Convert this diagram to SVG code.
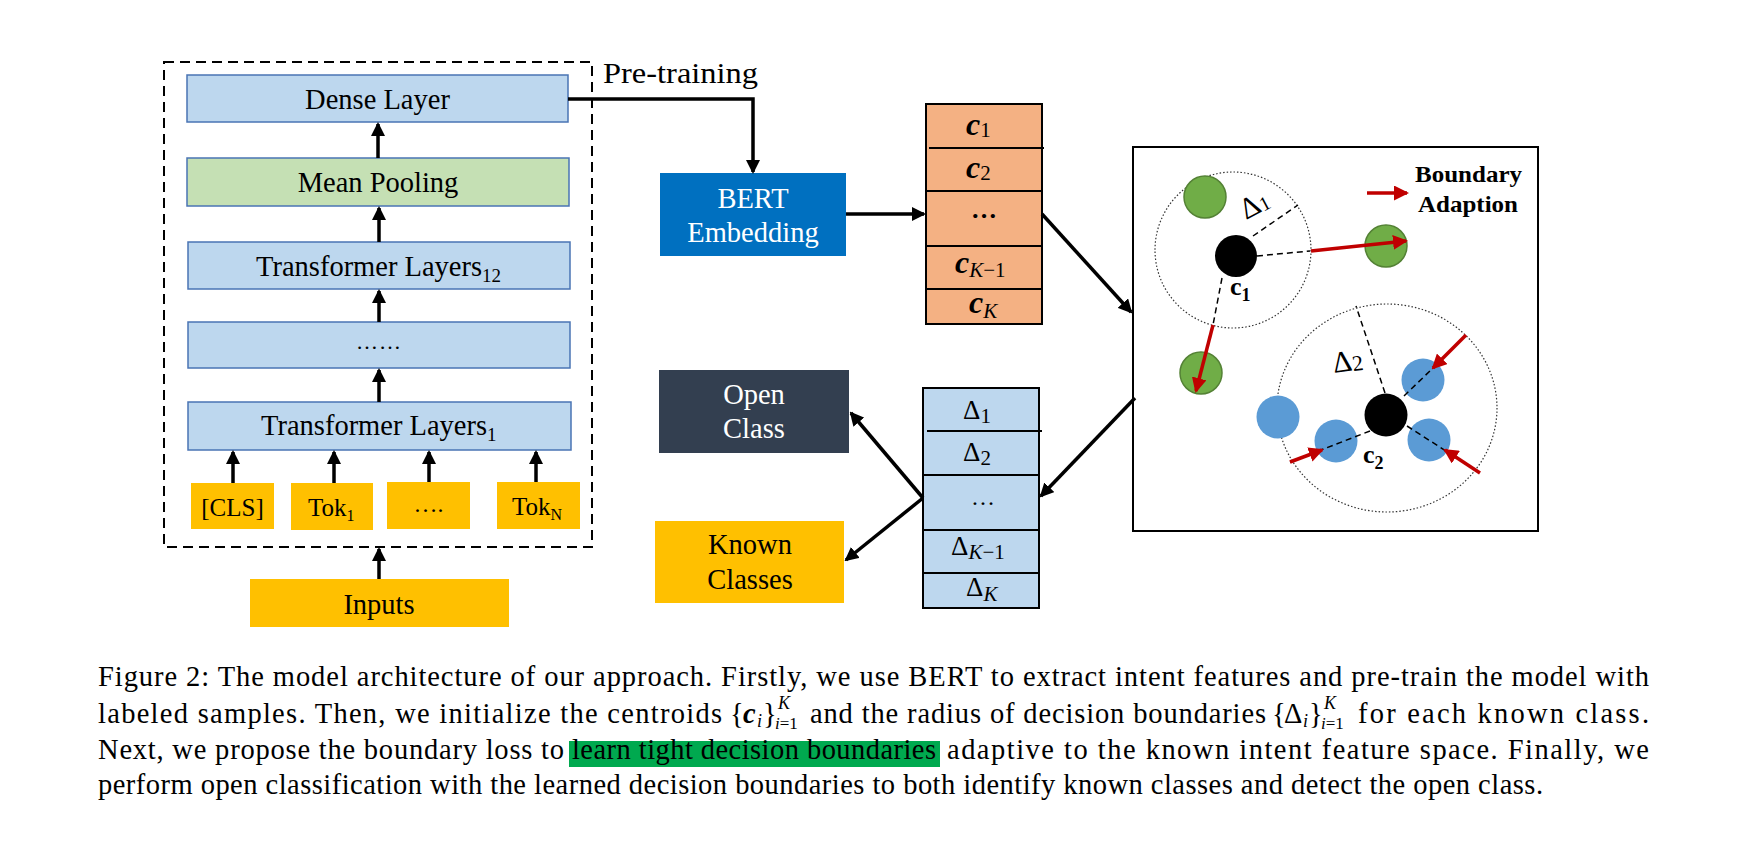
<svg xmlns="http://www.w3.org/2000/svg" width="1752" height="850" viewBox="0 0 1752 850">
<defs>
<style>
.t{font-family:"Liberation Serif","Times New Roman",serif;fill:#000}
.w{font-family:"Liberation Serif","Times New Roman",serif;fill:#fff}
.lb{fill:#BDD7EE;stroke:#4A74B4;stroke-width:1.5}
.gr{fill:#C5E0B4;stroke:#4A74B4;stroke-width:1.5}
.yl{fill:#FFC000}
.ln{stroke:#000;stroke-width:3.5;fill:none}
.rd{stroke:#C00000;stroke-width:3.5;fill:none}
.ds{stroke:#000;stroke-width:1.5;stroke-dasharray:6,4;fill:none}
.dt{stroke:#333;stroke-width:1.2;stroke-dasharray:1.5,2;fill:none}
.cell{stroke:#000;stroke-width:2;fill:none}
</style>
<marker id="ab" markerUnits="userSpaceOnUse" markerWidth="14" markerHeight="14" refX="12" refY="7" orient="auto"><path d="M0,0 L14,7 L0,14 z" fill="#000"/></marker>
<marker id="ar" markerUnits="userSpaceOnUse" markerWidth="15" markerHeight="15" refX="13" refY="7.5" orient="auto"><path d="M0,0 L15,7.5 L0,15 z" fill="#C00000"/></marker>
</defs>
<rect width="1752" height="850" fill="#fff"/>

<g id="encoder">
<rect x="164" y="62" width="428" height="485" fill="none" stroke="#000" stroke-width="2" stroke-dasharray="10,6"/>
</g>
<g id="dense"><rect class="lb" x="187" y="75" width="381" height="47"/><text class="t" x="377.5" y="109" font-size="28.5" text-anchor="middle">Dense Layer</text></g>
<g id="pooling"><rect class="gr" x="187" y="158" width="382" height="48"/><text class="t" x="378" y="192" font-size="28.5" text-anchor="middle">Mean Pooling</text></g>
<g id="tl12"><rect class="lb" x="188" y="242" width="382" height="47"/><text class="t" x="256" y="276" font-size="28.5">Transformer Layers<tspan font-size="19" dy="6">12</tspan></text></g>
<g id="tldots"><rect class="lb" x="188" y="322" width="382" height="46"/><text class="t" x="379" y="349" font-size="22" text-anchor="middle" letter-spacing="1">……</text></g>
<g id="tl1"><rect class="lb" x="188" y="402" width="383" height="48"/><text class="t" x="261" y="435" font-size="28.5">Transformer Layers<tspan font-size="19" dy="6">1</tspan></text></g>
<g id="tok-cls"><rect class="yl" x="191" y="483" width="83" height="46"/><text class="t" x="232.5" y="516" font-size="25" text-anchor="middle">[CLS]</text></g>
<g id="tok-1"><rect class="yl" x="291" y="483" width="82" height="47"/><text class="t" x="308" y="516" font-size="25">Tok<tspan font-size="16" dy="5">1</tspan></text></g>
<g id="tok-dots"><rect class="yl" x="387" y="482" width="83" height="47"/><text class="t" x="428.5" y="512" font-size="24" text-anchor="middle">….</text></g>
<g id="tok-n"><rect class="yl" x="497" y="482" width="83" height="47"/><text class="t" x="512" y="515" font-size="25">Tok<tspan font-size="16" dy="5">N</tspan></text></g>
<g id="inputs"><rect class="yl" x="250" y="579" width="259" height="48"/><text class="t" x="379" y="614" font-size="28.5" text-anchor="middle">Inputs</text></g>

<g id="pretraining-label"><text class="t" x="603" y="83" font-size="30" textLength="155" lengthAdjust="spacingAndGlyphs">Pre-training</text></g>

<g id="bert"><rect x="660" y="173" width="186" height="83" fill="#0070C0"/><text class="w" x="753" y="208" font-size="28.5" text-anchor="middle">BERT</text><text class="w" x="753" y="242" font-size="28.5" text-anchor="middle">Embedding</text></g>

<g id="centroids">
<rect x="926" y="104" width="116" height="220" fill="#F4B183" stroke="#000" stroke-width="2"/>
<line class="cell" x1="929" y1="148" x2="1044" y2="148"/>
<line class="cell" x1="926" y1="191" x2="1042" y2="191"/>
<line class="cell" x1="925" y1="246" x2="1041" y2="246"/>
<line class="cell" x1="926" y1="289" x2="1042" y2="289"/>
<text class="t" x="966" y="135" font-size="32" font-weight="bold" font-style="italic">c<tspan font-weight="normal" font-style="normal" font-size="21" dy="2">1</tspan></text>
<text class="t" x="966" y="178" font-size="32" font-weight="bold" font-style="italic">c<tspan font-weight="normal" font-style="normal" font-size="21" dy="2">2</tspan></text>
<text class="t" x="984" y="218" font-size="26" font-weight="bold" text-anchor="middle">…</text>
<text class="t" x="955" y="273" font-size="32" font-weight="bold" font-style="italic">c<tspan font-weight="normal" font-size="21" dy="4">K</tspan><tspan font-weight="normal" font-style="normal" font-size="21">−1</tspan></text>
<text class="t" x="969" y="313" font-size="32" font-weight="bold" font-style="italic">c<tspan font-weight="normal" font-size="21" dy="5">K</tspan></text>
</g>

<g id="deltas">
<rect x="923" y="388" width="116" height="220" fill="#BDD7EE" stroke="#000" stroke-width="2"/>
<line class="cell" x1="927" y1="431" x2="1042" y2="431"/>
<line class="cell" x1="923" y1="475" x2="1039" y2="475"/>
<line class="cell" x1="922" y1="530" x2="1038" y2="530"/>
<line class="cell" x1="923" y1="573" x2="1039" y2="573"/>
<text class="t" x="963" y="419" font-size="27">Δ<tspan font-size="21" dy="4">1</tspan></text>
<text class="t" x="963" y="461" font-size="27">Δ<tspan font-size="21" dy="4">2</tspan></text>
<text class="t" x="983" y="505" font-size="24" text-anchor="middle">…</text>
<text class="t" x="951" y="555" font-size="27">Δ<tspan font-size="21" font-style="italic" dy="4">K</tspan><tspan font-size="21">−1</tspan></text>
<text class="t" x="966" y="596" font-size="27">Δ<tspan font-size="21" font-style="italic" dy="5">K</tspan></text>
</g>

<g id="open-class"><rect x="659" y="370" width="190" height="83" fill="#333F50"/><text class="w" x="754" y="404" font-size="28.5" text-anchor="middle">Open</text><text class="w" x="754" y="438" font-size="28.5" text-anchor="middle">Class</text></g>
<g id="known-classes"><rect x="655" y="521" width="189" height="82" fill="#FFC000"/><text class="t" x="750" y="554" font-size="28.5" text-anchor="middle">Known</text><text class="t" x="750" y="589" font-size="28.5" text-anchor="middle">Classes</text></g>

<g id="boundary-panel">
<rect x="1133" y="147" width="405" height="384" fill="#fff" stroke="#000" stroke-width="2"/>
<circle class="dt" cx="1233" cy="250" r="78"/>
<ellipse class="dt" cx="1387" cy="408" rx="110" ry="104"/>
<circle cx="1205" cy="197" r="21" fill="#70AD47" stroke="#548235" stroke-width="1.5"/>
<circle cx="1386" cy="246" r="21" fill="#70AD47" stroke="#548235" stroke-width="1.5"/>
<circle cx="1201" cy="373" r="21" fill="#70AD47" stroke="#548235" stroke-width="1.5"/>
<circle cx="1423" cy="380" r="21.5" fill="#5B9BD5"/>
<circle cx="1278" cy="417" r="21.5" fill="#5B9BD5"/>
<circle cx="1336" cy="441" r="21.5" fill="#5B9BD5"/>
<circle cx="1429" cy="440" r="21.5" fill="#5B9BD5"/>
<line class="ds" x1="1253" y1="236" x2="1298" y2="205"/>
<line class="ds" x1="1257" y1="256" x2="1310" y2="251"/>
<line class="ds" x1="1222" y1="278" x2="1213" y2="325"/>
<line class="ds" x1="1385" y1="393" x2="1356" y2="306"/>
<line class="ds" x1="1404" y1="396" x2="1433" y2="368"/>
<line class="ds" x1="1370" y1="431" x2="1290" y2="462"/>
<line class="ds" x1="1407" y1="426" x2="1480" y2="473"/>
<circle cx="1236" cy="256" r="21" fill="#000"/>
<circle cx="1386" cy="415" r="21.5" fill="#000"/>
<line class="rd" x1="1311" y1="251" x2="1406" y2="241" marker-end="url(#ar)"/>
<line class="rd" x1="1213" y1="325" x2="1196" y2="391" marker-end="url(#ar)"/>
<line class="rd" x1="1466" y1="335" x2="1433" y2="368" marker-end="url(#ar)"/>
<line class="rd" x1="1290" y1="462" x2="1322" y2="450" marker-end="url(#ar)"/>
<line class="rd" x1="1480" y1="473" x2="1445" y2="450" marker-end="url(#ar)"/>
<line class="rd" x1="1367" y1="193" x2="1407" y2="193" marker-end="url(#ar)"/>
<text class="t" x="1415" y="182" font-size="23" font-weight="bold" textLength="107" lengthAdjust="spacingAndGlyphs">Boundary</text>
<text class="t" x="1418" y="212" font-size="23" font-weight="bold" textLength="100" lengthAdjust="spacingAndGlyphs">Adaption</text>
<text class="t" font-size="30" transform="translate(1246,220) rotate(-28)">Δ<tspan font-size="20" dy="1">1</tspan></text>
<text class="t" font-size="30" transform="translate(1334,373) rotate(-8)">Δ<tspan font-size="22" dy="1">2</tspan></text>
<text class="t" x="1230" y="295" font-size="26" font-weight="bold">c<tspan font-size="18" dy="6">1</tspan></text>
<text class="t" x="1363" y="463" font-size="26" font-weight="bold">c<tspan font-size="18" dy="6">2</tspan></text>
</g>

<g id="connectors">
<line class="ln" x1="378" y1="158" x2="378" y2="124" marker-end="url(#ab)"/>
<line class="ln" x1="379" y1="242" x2="379" y2="208" marker-end="url(#ab)"/>
<line class="ln" x1="379" y1="322" x2="379" y2="291" marker-end="url(#ab)"/>
<line class="ln" x1="379" y1="402" x2="379" y2="370" marker-end="url(#ab)"/>
<line class="ln" x1="233" y1="483" x2="233" y2="452" marker-end="url(#ab)"/>
<line class="ln" x1="334" y1="483" x2="334" y2="452" marker-end="url(#ab)"/>
<line class="ln" x1="429" y1="482" x2="429" y2="452" marker-end="url(#ab)"/>
<line class="ln" x1="536" y1="482" x2="536" y2="452" marker-end="url(#ab)"/>
<line class="ln" x1="379" y1="579" x2="379" y2="549" marker-end="url(#ab)"/>
<polyline class="ln" points="568,99 753,99 753,172" marker-end="url(#ab)"/>
<line class="ln" x1="846" y1="214" x2="924" y2="214" marker-end="url(#ab)"/>
<line class="ln" x1="1042" y1="214" x2="1131" y2="312" marker-end="url(#ab)"/>
<line class="ln" x1="1135" y1="398" x2="1041" y2="496" marker-end="url(#ab)"/>
<line class="ln" x1="923" y1="498" x2="851" y2="413" marker-end="url(#ab)"/>
<line class="ln" x1="923" y1="498" x2="846" y2="560" marker-end="url(#ab)"/>
</g>

<g id="caption">
<rect x="569" y="741" width="371" height="26" fill="#00A94F"/>
<text class="t" x="98" y="686" font-size="28.5" textLength="1551" lengthAdjust="spacing">Figure 2: The model architecture of our approach. Firstly, we use BERT to extract intent features and pre-train the model with</text>
<text class="t" x="98" y="723" font-size="28.5" textLength="624" lengthAdjust="spacing">labeled samples. Then, we initialize the centroids</text>
<text class="t" font-size="28.5"><tspan x="730" y="723">{</tspan><tspan x="743" y="723" font-weight="bold" font-style="italic">c</tspan><tspan x="757" y="727" font-size="18" font-style="italic">i</tspan><tspan x="763" y="723">}</tspan><tspan x="778" y="709" font-size="18" font-style="italic">K</tspan><tspan x="775" y="729" font-size="17" font-style="italic">i</tspan><tspan font-size="17">=1</tspan></text>
<text class="t" x="810" y="723" font-size="28.5" textLength="456" lengthAdjust="spacing">and the radius of decision boundaries</text>
<text class="t" font-size="28.5"><tspan x="1272" y="723">{</tspan><tspan x="1284" y="723">Δ</tspan><tspan x="1303" y="727" font-size="18" font-style="italic">i</tspan><tspan x="1309" y="723">}</tspan><tspan x="1324" y="709" font-size="18" font-style="italic">K</tspan><tspan x="1321" y="729" font-size="17" font-style="italic">i</tspan><tspan font-size="17">=1</tspan></text>
<text class="t" x="1358" y="723" font-size="28.5" textLength="291" lengthAdjust="spacing">for each known class.</text>
<text class="t" x="98" y="759" font-size="28.5" textLength="466" lengthAdjust="spacing">Next, we propose the boundary loss to</text>
<text class="t" x="572" y="759" font-size="28.5" textLength="364" lengthAdjust="spacing">learn tight decision boundaries</text>
<text class="t" x="947" y="759" font-size="28.5" textLength="702" lengthAdjust="spacing">adaptive to the known intent feature space. Finally, we</text>
<text class="t" x="98" y="794" font-size="28.5" textLength="1445" lengthAdjust="spacing">perform open classification with the learned decision boundaries to both identify known classes and detect the open class.</text>
</g>
</svg>
